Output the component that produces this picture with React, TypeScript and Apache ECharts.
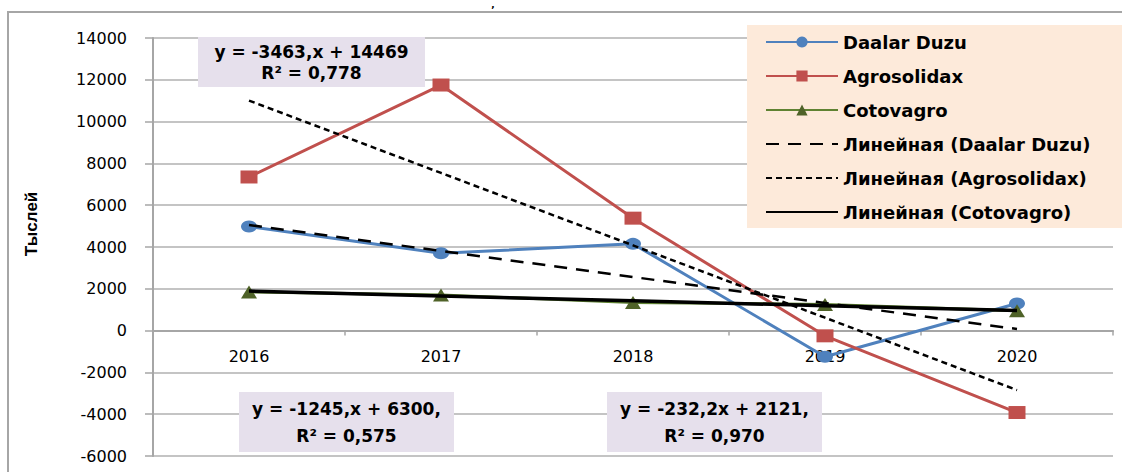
import React, { useEffect, useRef } from "react";
import * as echarts from "echarts";

const categories = ["2016", "2017", "2018", "2019", "2020"];
const daalarDuzu = [4980, 3700, 4150, -1250, 1300];
const agrosolidax = [7350, 11750, 5380, -250, -3920];
const cotovagro = [1850, 1700, 1350, 1250, 950];
const trendDaalar = [5055, 3810, 2565, 1320, 75];
const trendAgro = [11006, 7543, 4080, 617, -2846];
const trendCoto = [1889, 1657, 1424, 1192, 960];
const yTicks = { min: -6000, max: 14000, interval: 2000 };
const annotations = [
  { lines: ["y = -3463,x + 14469", "R² = 0,778"], x: 198, y: 37, w: 227, h: 50, gap: 21 },
  { lines: ["y = -1245,x + 6300,", "R² = 0,575"], x: 239, y: 392, w: 215, h: 60, gap: 27 },
  { lines: ["y = -232,2x + 2121,", "R² = 0,970"], x: 607, y: 392, w: 215, h: 60, gap: 27 },
];

const FONT = "DejaVu Sans";
const GRID = { left: 153, right: 9, top: 38, bottom: 16 };

export default function App() {
  const ref = useRef<HTMLDivElement>(null);
  useEffect(() => {
    if (!ref.current) return;
    const chart = echarts.init(ref.current, undefined, { renderer: "svg" });
    const annGraphics: any[] = [];
    annotations.forEach((a) => {
      annGraphics.push({
        type: "rect",
        shape: { x: a.x, y: a.y, width: a.w, height: a.h },
        style: { fill: "#E6E0EC" },
        z: 10,
      });
      const top = a.y + (a.h - a.gap) / 2;
      a.lines.forEach((t, i) => {
        annGraphics.push({
          type: "text",
          x: a.x + a.w / 2,
          y: top + i * a.gap,
          style: {
            text: t,
            fill: "#000",
            font: `bold 17px "${FONT}"`,
            align: "center",
            verticalAlign: "middle",
          },
          z: 11,
        });
      });
    });
    // pixel offset of the zero line from the bottom of the grid
    const plotH = 472 - GRID.top - GRID.bottom;
    const zeroOffset = (plotH * (0 - yTicks.min)) / (yTicks.max - yTicks.min);
    const hideSym = { color: "rgba(0,0,0,0)", borderWidth: 0, opacity: 0 };
    const option: any = {
      animation: false,
      backgroundColor: "#fff",
      textStyle: { fontFamily: FONT },
      grid: { ...GRID, containLabel: false, outerBoundsMode: "none" },
      graphic: [
        {
          type: "rect",
          shape: { x: 8, y: 12, width: 1300, height: 600 },
          style: { fill: "none", stroke: "#A6A6A6", lineWidth: 2 },
          z: -10,
        },
        {
          type: "rect",
          shape: { x: 747, y: 25, width: 400, height: 203 },
          style: { fill: "#FDEADA" },
          z: 5,
        },
        {
          type: "text",
          x: 31,
          y: 224,
          rotation: Math.PI / 2,
          style: {
            text: "Тыслей",
            fill: "#000",
            font: `bold 17px "Liberation Sans"`,
            align: "center",
            verticalAlign: "middle",
          },
        },
        {
          type: "text",
          x: 493,
          y: 0,
          style: {
            text: ",",
            fill: "#000",
            font: `bold 9px "${FONT}"`,
            align: "center",
            verticalAlign: "top",
          },
        },
        ...annGraphics,
      ],
      legend: {
        orient: "vertical",
        left: 760,
        top: 28,
        itemWidth: 72,
        itemHeight: 14,
        itemGap: 16,
        z: 20,
        textStyle: { fontFamily: FONT, fontWeight: "bold", fontSize: 18, color: "#000" },
        data: [
          { name: "Daalar Duzu" },
          { name: "Agrosolidax" },
          { name: "Cotovagro" },
          { name: "Линейная (Daalar Duzu)", itemStyle: hideSym },
          { name: "Линейная (Agrosolidax)", itemStyle: hideSym },
          { name: "Линейная (Cotovagro)", itemStyle: hideSym },
        ],
      },
      xAxis: {
        type: "category",
        data: categories,
        boundaryGap: true,
        offset: -zeroOffset,
        axisLine: { onZero: false, lineStyle: { color: "#A6A6A6", width: 2 } },
        axisTick: { show: true, length: 5, lineStyle: { color: "#A6A6A6", width: 1.5 } },
        axisLabel: { color: "#000", fontSize: 16, fontFamily: FONT, margin: 18 },
        splitLine: { show: false },
      },
      yAxis: {
        type: "value",
        min: yTicks.min,
        max: yTicks.max,
        interval: yTicks.interval,
        axisLine: { show: true, lineStyle: { color: "#A6A6A6", width: 2 } },
        axisTick: { show: true, length: 8, lineStyle: { color: "#A6A6A6", width: 1.5 } },
        axisLabel: {
          color: "#000",
          fontSize: 16,
          fontFamily: FONT,
          margin: 26,
          formatter: (v: number) => String(v),
        },
        splitLine: { show: true, lineStyle: { color: "#B0B0B0", width: 1.5 } },
      },
      series: [
        {
          name: "Daalar Duzu",
          type: "line",
          data: daalarDuzu,
          symbol: "circle",
          symbolSize: [16, 12],
          lineStyle: { color: "#4F81BD", width: 3 },
          itemStyle: { color: "#4F81BD" },
          z: 3,
        },
        {
          name: "Agrosolidax",
          type: "line",
          data: agrosolidax,
          symbol: "rect",
          symbolSize: [17, 13],
          lineStyle: { color: "#C0504D", width: 3 },
          itemStyle: { color: "#C0504D" },
          z: 3,
        },
        {
          name: "Cotovagro",
          type: "line",
          data: cotovagro,
          symbol: "triangle",
          symbolSize: [16, 13],
          lineStyle: { color: "#5F8232", width: 3 },
          itemStyle: { color: "#4F6228" },
          z: 3,
        },
        {
          name: "Линейная (Daalar Duzu)",
          type: "line",
          data: trendDaalar,
          symbol: "none",
          lineStyle: { color: "#000", width: 2.5, type: [13, 9] },
          itemStyle: { color: "#000" },
          z: 4,
        },
        {
          name: "Линейная (Agrosolidax)",
          type: "line",
          data: trendAgro,
          symbol: "none",
          lineStyle: { color: "#000", width: 2.5, type: [6, 4] },
          itemStyle: { color: "#000" },
          z: 4,
        },
        {
          name: "Линейная (Cotovagro)",
          type: "line",
          data: trendCoto,
          symbol: "none",
          lineStyle: { color: "#000", width: 3.5 },
          itemStyle: { color: "#000" },
          z: 4,
        },
      ],
    };
    chart.setOption(option);
    return () => chart.dispose();
  }, []);
  return (
    <div
      ref={ref}
      style={{ position: "fixed", left: 0, top: 0, width: 1122, height: 472 }}
    />
  );
}
